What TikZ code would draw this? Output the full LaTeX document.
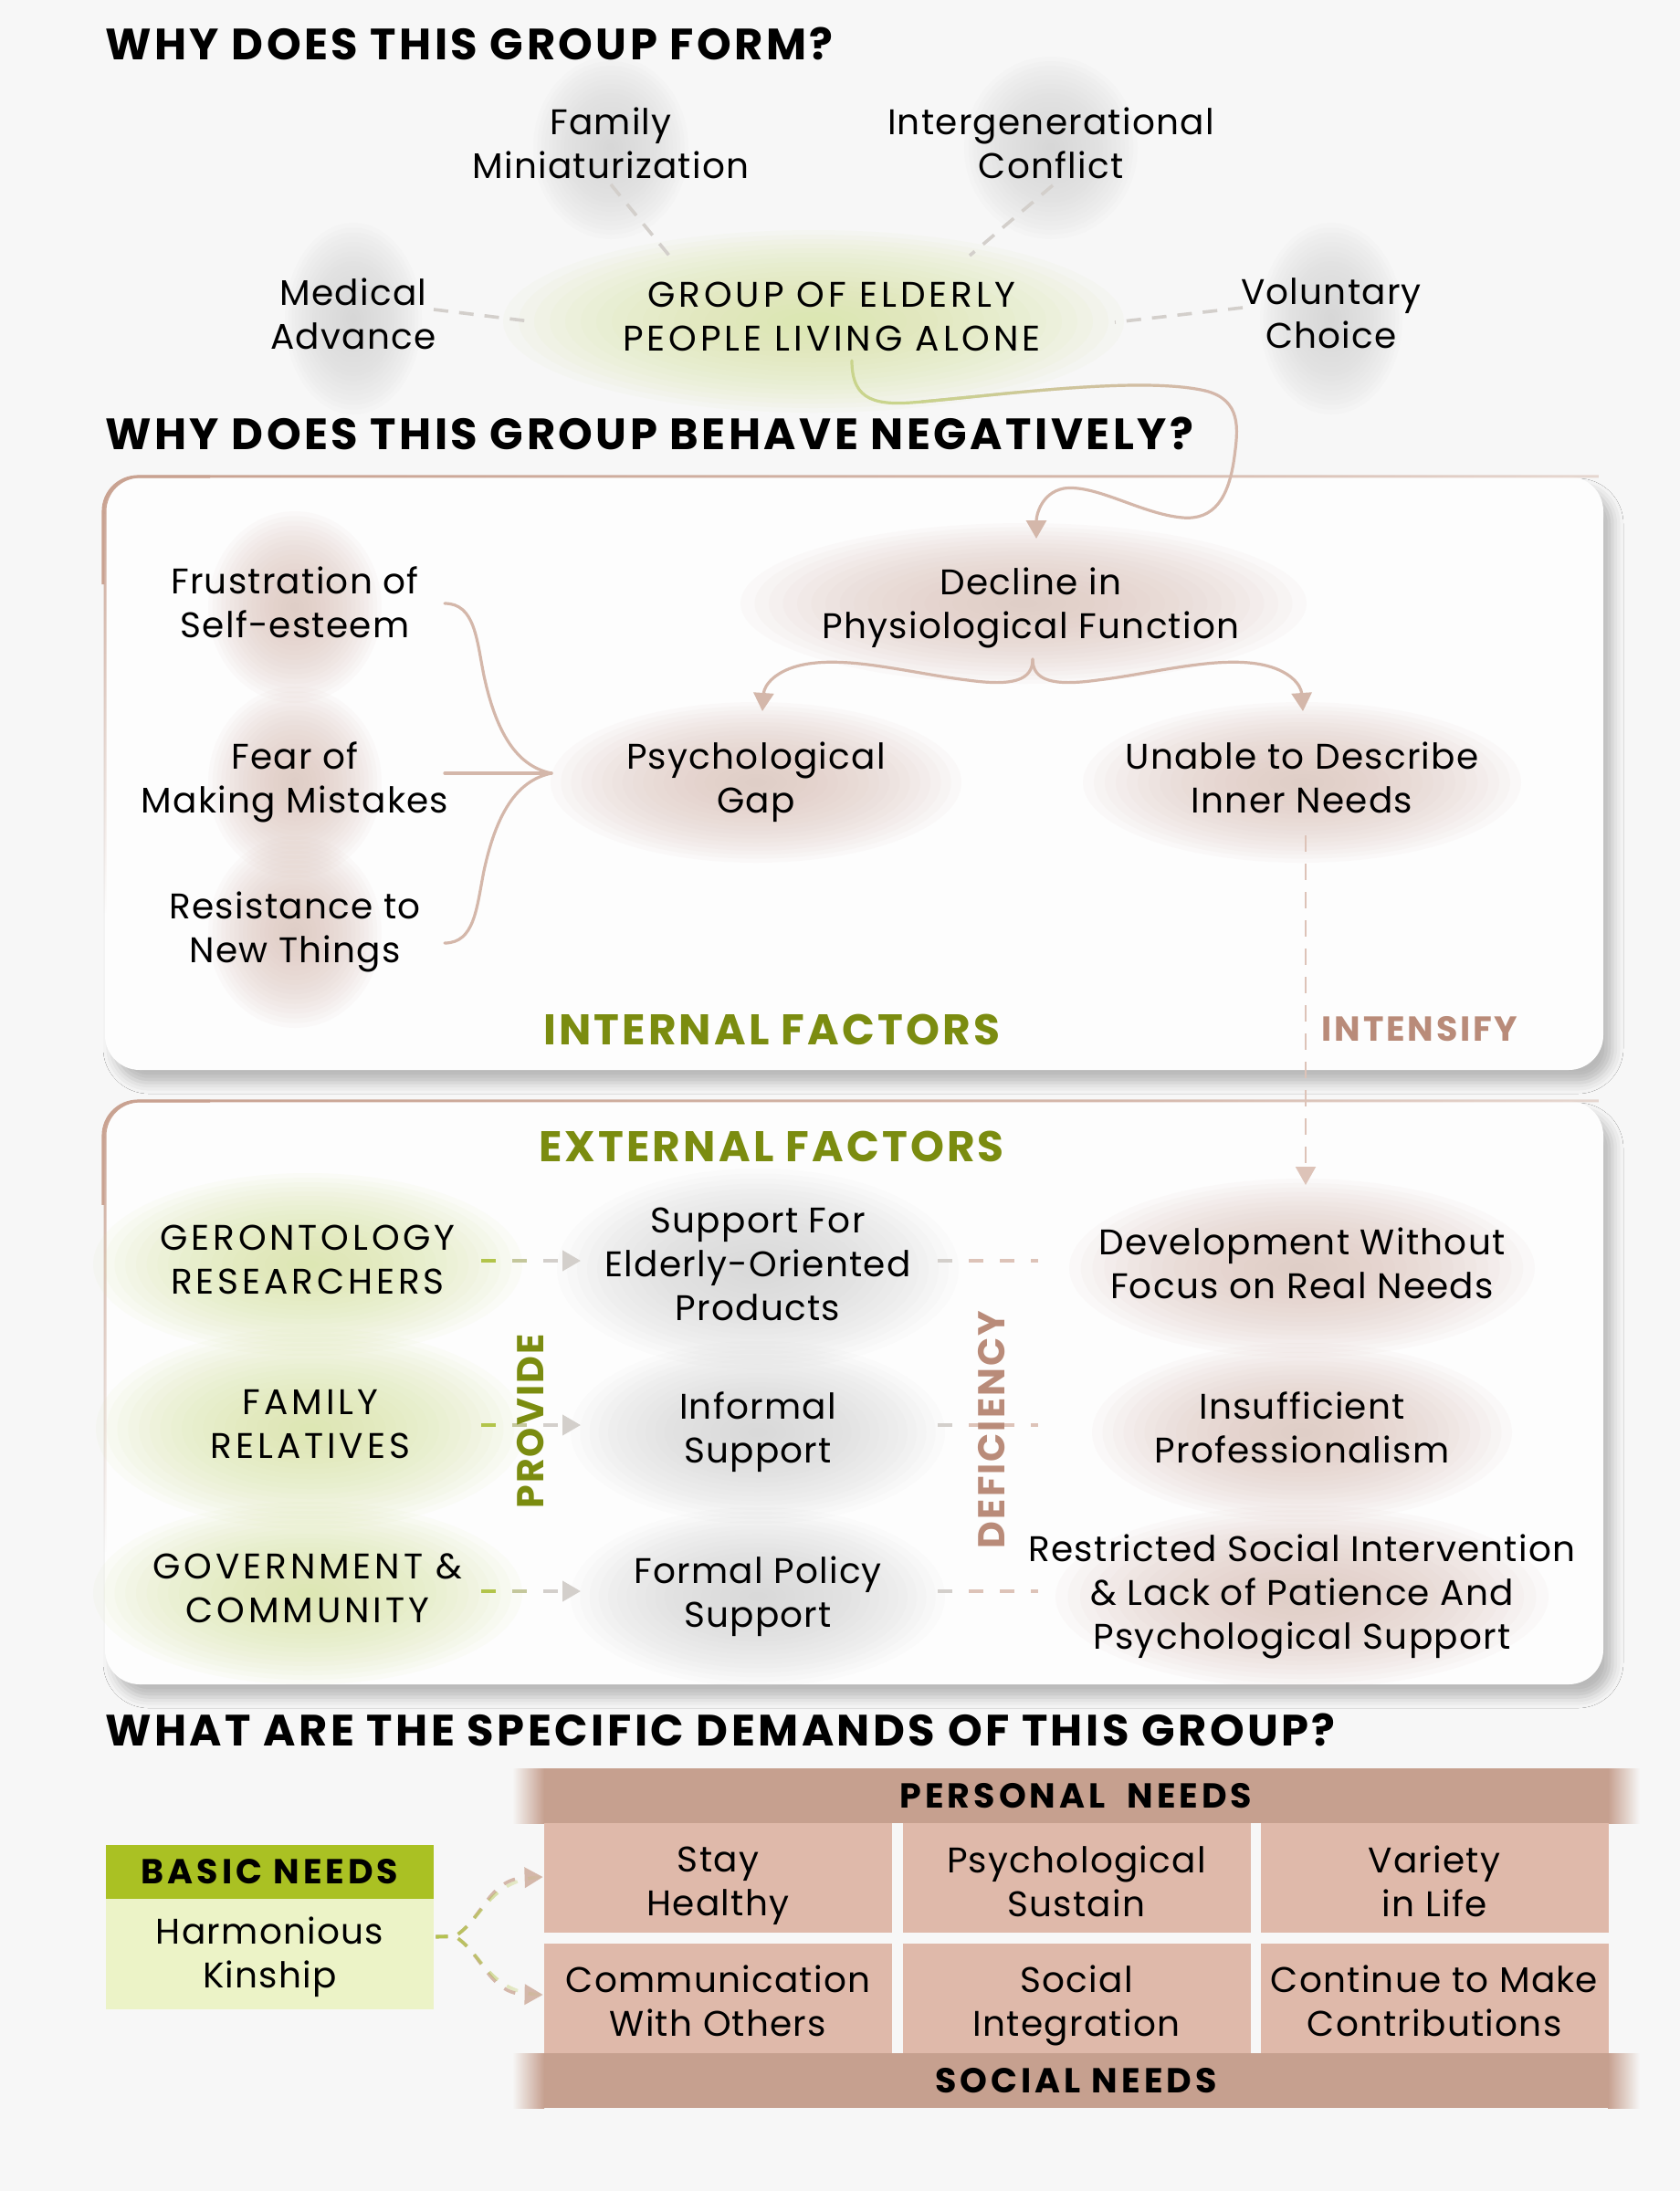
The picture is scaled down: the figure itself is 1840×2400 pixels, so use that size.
\documentclass[tikz,border=0pt]{standalone}
\usepackage{fontspec}
\setmainfont{Poppins}
\usetikzlibrary{arrows.meta,fadings,shadows.blur,calc}

\definecolor{pagebg}{HTML}{F7F7F7}
\definecolor{boxbg}{HTML}{FDFDFD}
\definecolor{olive}{HTML}{7B8C10}
\definecolor{rose}{HTML}{B98B79}
\definecolor{roseline}{HTML}{D4B7AA}
\definecolor{bordercol}{HTML}{C9A291}
\definecolor{graydash}{HTML}{D3CFCB}
\definecolor{greendash}{HTML}{B2C44A}
\definecolor{middash}{HTML}{C4C79C}
\definecolor{greenline}{HTML}{C9D48C}
\definecolor{pinkdash}{HTML}{DDC3B8}
\definecolor{blobpink}{HTML}{DEC7BE}
\definecolor{blobgray}{HTML}{D6D6D6}
\definecolor{blobgreen}{HTML}{DCE7A7}
\definecolor{basichead}{HTML}{AAC123}
\definecolor{basicbody}{HTML}{ECF3C7}
\definecolor{band}{HTML}{C6A08F}
\definecolor{cellc}{HTML}{DFB9AA}

\newcommand\myBody{\fontsize{19.5}{24}\selectfont\addfontfeature{LetterSpace=3.2}}
\newcommand\myBodyU{\fontsize{19.5}{24}\selectfont\addfontfeature{LetterSpace=10}}
\newcommand\myHead{\fontsize{24}{28}\selectfont\bfseries\addfontfeature{LetterSpace=7.2}}
\newcommand\myLab{\fontsize{23.5}{28}\selectfont\bfseries\addfontfeature{LetterSpace=6.7}}
\newcommand\myLabS{\fontsize{19}{24}\selectfont\bfseries\addfontfeature{LetterSpace=7.2}}
\newcommand\myLabB{\fontsize{19}{24}\selectfont\bfseries\addfontfeature{LetterSpace=10.5}}
\newcommand\myLabR{\fontsize{20.5}{24}\selectfont\bfseries\addfontfeature{LetterSpace=5}}

\tikzfading[name=myfadeR, left color=transparent!0, right color=transparent!100, middle color=transparent!25]
\tikzfading[name=myfadeLin, left color=transparent!0, right color=transparent!100]
\tikzfading[name=myfadeD, top color=transparent!0, bottom color=transparent!100]

\newcommand\myblob[4]{%
  \foreach \k in {0,...,19}{%
    \pgfmathsetmacro\myrx{#3*(20-\k)/20}%
    \pgfmathsetmacro\myry{#4*(20-\k)/20}%
    \fill[#1,opacity=0.075] (#2) ellipse [x radius=\myrx, y radius=\myry];}}

\pgfdeclarelayer{back}
\pgfdeclarelayer{blobs}
\pgfsetlayers{back,blobs,main}

\begin{document}
\begin{tikzpicture}[x=0.5pt,y=-0.5pt,
  every node/.style={inner sep=0pt},
  txt/.style={align=center,font=\myBody,text=black,yshift=-3pt,
     execute at begin node={\rule{0pt}{24.6pt}},
     execute at end node={\rule[-5.5pt]{0pt}{5.5pt}}},
  txtu/.style={txt,font=\myBodyU},
  hd/.style={anchor=base west,font=\myHead,text=black},
  lab/.style={font=\myLab},
  labs/.style={font=\myLabS},
  labr/.style={font=\myLabR},
  curve/.style={draw=roseline,line width=1.6pt,line cap=round},
  arr/.style={-{Triangle[length=10pt,width=11pt]}},
  tdash/.style={draw=graydash,line width=1.8pt,dash pattern=on 8pt off 6pt},
  vdash/.style={draw=pinkdash,line width=1.1pt,dash pattern=on 9pt off 6.5pt},
  hdash/.style={line width=2pt,dash pattern=on 8pt off 9pt},
  fdash/.style={line width=1.8pt,dash pattern=on 6.5pt off 6pt},
  boxst/.style={fill=boxbg,rounded corners=19pt,blur shadow={shadow xshift=5pt,shadow yshift=-7pt,shadow blur radius=6pt,shadow opacity=25}},
  borderst/.style={draw=bordercol,line width=1.5pt,rounded corners=19pt},
  bandst/.style={fill=band,minimum width=582.5pt,minimum height=30pt,font=\myLabB},
  cellbox/.style={fill=cellc,minimum width=190.5pt,minimum height=60pt}
]
\useasboundingbox (0,0) rectangle (1840,2400);

\begin{pgfonlayer}{back}
  \fill[pagebg] (0,0) rectangle (1840,2400);
  \fill[boxst] (115,522) rectangle (1756,1172);
  \fill[boxst] (115,1206) rectangle (1756,1845);
  \draw[borderst,path fading=myfadeR] (115,640) -- (115,522) -- (1756,522) (2300,522);
  \draw[borderst,path fading=myfadeD] (115,1000) -- (115,522) -- (230,522);
  \draw[borderst,path fading=myfadeR] (115,1320) -- (115,1206) -- (1756,1206) (2300,1206);
  \draw[borderst,path fading=myfadeD] (115,1700) -- (115,1206) -- (230,1206);
\end{pgfonlayer}

% headings
\node[hd] (h1) at (115,65) {WHY DOES THIS GROUP FORM?};
\node[hd] (h2) at (115,492) {WHY DOES THIS GROUP BEHAVE NEGATIVELY?};
\node[hd] (h3) at (115,1912) {WHAT ARE THE SPECIFIC DEMANDS OF THIS GROUP?};

% top section
\node[txt] (fam) at (669,156) {Family\\Miniaturization};
\node[txt] (inter) at (1151,156) {Intergenerational\\Conflict};
\node[txt] (med) at (387,343) {Medical\\Advance};
\node[txtu] (grp) at (911,346) {GROUP OF ELDERLY\\PEOPLE LIVING ALONE};
\node[txt] (vol) at (1458,343) {Voluntary\\Choice};

\begin{pgfonlayer}{blobs}
  \myblob{blobgray}{fam}{85}{100}
  \myblob{blobgray}{inter}{95}{100}
  \myblob{blobgray}{med}{75}{105}
  \myblob{blobgray}{vol}{78}{105}
  \myblob{blobgreen}{$(grp)+(-20,0)$}{340}{100}
\end{pgfonlayer}

\draw[tdash] ($(fam)+(0,40)$) -- ($(grp)+(-178,-72)$);
\draw[tdash] ($(inter)+(2,41)$) -- ($(grp)+(151,-72)$);
\draw[tdash] ($(med)+(88,-10)$) -- ($(grp)+(-330,0)$);
\draw[tdash] ($(vol)+(-97,-12)$) -- ($(grp)+(310,1)$);

% internal factors
\node[txt] (frus) at (323,659) {Frustration of\\Self-esteem};
\node[txt] (fear) at (323,851) {Fear of\\Making Mistakes};
\node[txt] (resist) at (323,1015) {Resistance to\\New Things};
\node[txt] (decl) at (1129,660) {Decline in\\Physiological Function};
\node[txt] (psy) at (828,851) {Psychological\\Gap};
\node[txt] (unable) at (1426,851) {Unable to Describe\\Inner Needs};
\node[lab,text=olive] (intf) at (845,1128) {INTERNAL FACTORS};
\node[labs,text=rose] (intens) at (1555,1127) {INTENSIFY};

\begin{pgfonlayer}{blobs}
  \myblob{blobpink}{frus}{95}{105}
  \myblob{blobpink}{fear}{95}{105}
  \myblob{blobpink}{resist}{95}{105}
  \myblob{blobpink}{$(decl)+(-8,-5)$}{310}{88}
  \myblob{blobpink}{psy}{225}{88}
  \myblob{blobpink}{unable}{240}{88}
\end{pgfonlayer}

% curve from group to decline
\coordinate (gstart) at ($(grp)+(22,43)$);
\coordinate (dend) at ($(decl)+(6,-76)$);
\draw[curve,draw=greenline] (gstart) .. controls (933,440) and (960,445) .. (1010,440);
\draw[curve] (1010,440) .. controls (1100,432) and (1250,412) .. (1320,428);
\draw[curve,draw=greenline,path fading=myfadeLin] (1010,440) .. controls (1100,432) and (1250,412) .. (1320,428);
\draw[curve,arr] (1320,428) .. controls (1360,438) and (1356,470) .. (1352,500)
   .. controls (1346,545) and (1330,570) .. (1295,567)
   .. controls (1250,563) and (1200,530) .. (1165,535)
   .. controls (1140,540) and (1135,565) .. (dend);

% brace from three factors
\coordinate (join) at ($(psy)+(-224,-10)$);
\draw[curve] ($(frus)+(164,-4)$) .. controls (520,661) and (522,700) .. (530,740) .. controls (545,810) and (570,840) .. (join);
\draw[curve] ($(fear)+(164,-10)$) -- (join);
\draw[curve] ($(resist)+(164,12)$) .. controls (520,1033) and (522,994) .. (530,954) .. controls (545,884) and (570,854) .. (join);

% brace from decline
\coordinate (dtip) at ($(decl)+(2,56)$);
\draw[curve,arr] (dtip) .. controls (1131,745) and (1110,752) .. (1060,745) .. controls (1000,738) and (930,718) .. (880,728) .. controls (850,734) and (837,750) .. ($(psy)+(7,-78)$);
\draw[curve,arr] (dtip) .. controls (1131,745) and (1152,752) .. (1202,745) .. controls (1262,738) and (1332,718) .. (1382,728) .. controls (1412,734) and (1425,750) .. ($(unable)+(1,-78)$);

% intensify dashed
\node[txt] (dev) at (1426,1383) {Development Without\\Focus on Real Needs};
\draw[vdash,arr] ($(unable)+(4,58)$) -- ($(dev)+(4,-91)$);

% external factors
\node[lab,text=olive] (extf) at (845,1256) {EXTERNAL FACTORS};
\node[txtu] (ger) at (337,1379) {GERONTOLOGY\\RESEARCHERS};
\node[txt] (sup1) at (830,1384) {Support For\\Elderly-Oriented\\Products};
\node[txtu] (fam2) at (340,1559) {FAMILY\\RELATIVES};
\node[txt] (inf) at (830,1563) {Informal\\Support};
\node[txt] (insuf) at (1426,1563) {Insufficient\\Professionalism};
\node[txtu] (gov) at (337,1739) {GOVERNMENT \&\\COMMUNITY};
\node[txt] (formal) at (830,1743) {Formal Policy\\Support};
\node[txt] (restr) at (1426,1743) {Restricted Social Intervention\\\& Lack of Patience And\\Psychological Support};

\begin{pgfonlayer}{blobs}
  \myblob{blobgreen}{ger}{235}{100}
  \myblob{blobgreen}{fam2}{235}{110}
  \myblob{blobgreen}{gov}{235}{100}
  \myblob{blobgray}{sup1}{220}{110}
  \myblob{blobgray}{inf}{205}{100}
  \myblob{blobgray}{formal}{205}{98}
  \myblob{blobpink}{dev}{255}{98}
  \myblob{blobpink}{insuf}{230}{98}
  \myblob{blobpink}{restr}{270}{100}
\end{pgfonlayer}

% provide arrows
\foreach \y in {1381,1561,1743}{
  \draw[hdash,draw=graydash,arr] (527,\y) -- (636,\y);
  \draw[line width=2pt,draw=greendash] (527,\y) -- (543,\y);
  \draw[line width=2pt,draw=middash] (561,\y) -- (577,\y);
}
% deficiency dashes
\foreach \y in {1381,1561,1743}{
  \draw[hdash,draw=pinkdash] (1027,\y) -- (1137,\y);
  \draw[line width=2pt,draw=graydash] (1027,\y) -- (1043,\y);
}
\node[labr,text=olive,rotate=90] (prov) at (581,1557) {PROVIDE};
\node[labr,text=rose,rotate=90] (defi) at (1086,1566) {DEFICIENCY};

% demands
\node[fill=basichead,minimum width=179.5pt,minimum height=29.5pt,font=\myLabB] (bn) at (295.5,2050.5) {BASIC NEEDS};
\node[fill=basicbody,minimum width=179.5pt,minimum height=60.5pt] (harmbox) at (295.5,2140.5) {};
\node[txt] (harm) at (295.5,2138) {Harmonious\\Kinship};

\node[bandst] (pers) at (1178.5,1967) {PERSONAL~~NEEDS};
\node[bandst] (soc) at (1178.5,2279) {SOCIAL NEEDS};
\shade[left color=pagebg,right color=band] (561,1937) rectangle (596,1997);
\shade[left color=band,right color=pagebg] (1761,1937) rectangle (1796,1997);
\shade[left color=pagebg,right color=band] (561,2249) rectangle (596,2309);
\shade[left color=band,right color=pagebg] (1761,2249) rectangle (1796,2309);

\node[cellbox] (c1) at (786.5,2057) {};
\node[cellbox] (c2) at (1179,2057) {};
\node[cellbox] (c3) at (1571,2057) {};
\node[cellbox] (c4) at (786.5,2189) {};
\node[cellbox] (c5) at (1179,2189) {};
\node[cellbox] (c6) at (1571,2189) {};
\node[txt] (t1) at ($(c1)+(0,3)$) {Stay\\Healthy};
\node[txt] (t2) at ($(c2)+(0,3)$) {Psychological\\Sustain};
\node[txt] (t3) at ($(c3)+(0,3)$) {Variety\\in Life};
\node[txt] (t4) at ($(c4)+(0,2)$) {Communication\\With Others};
\node[txt] (t5) at ($(c5)+(0,2)$) {Social\\Integration};
\node[txt] (t6) at ($(c6)+(0,2)$) {Continue to Make\\Contributions};

\coordinate (fk) at ($(harmbox.east)+(2,-19)$);
\draw[fdash,draw=roseline,arr] (fk) -- (498,2121) .. controls (528,2103) and (535,2058) .. ($(c1.west)+(-1,-1)$);
\draw[fdash,draw=greendash,path fading=myfadeLin] (fk) -- (498,2121) .. controls (528,2103) and (535,2058) .. ($(c1.west)+(-1,-1)$);
\draw[fdash,draw=roseline,arr] (fk) -- (498,2121) .. controls (528,2139) and (535,2184) .. ($(c4.west)+(-1,-4)$);
\draw[fdash,draw=greendash,path fading=myfadeLin] (fk) -- (498,2121) .. controls (528,2139) and (535,2184) .. ($(c4.west)+(-1,-4)$);

\end{tikzpicture}
\end{document}
